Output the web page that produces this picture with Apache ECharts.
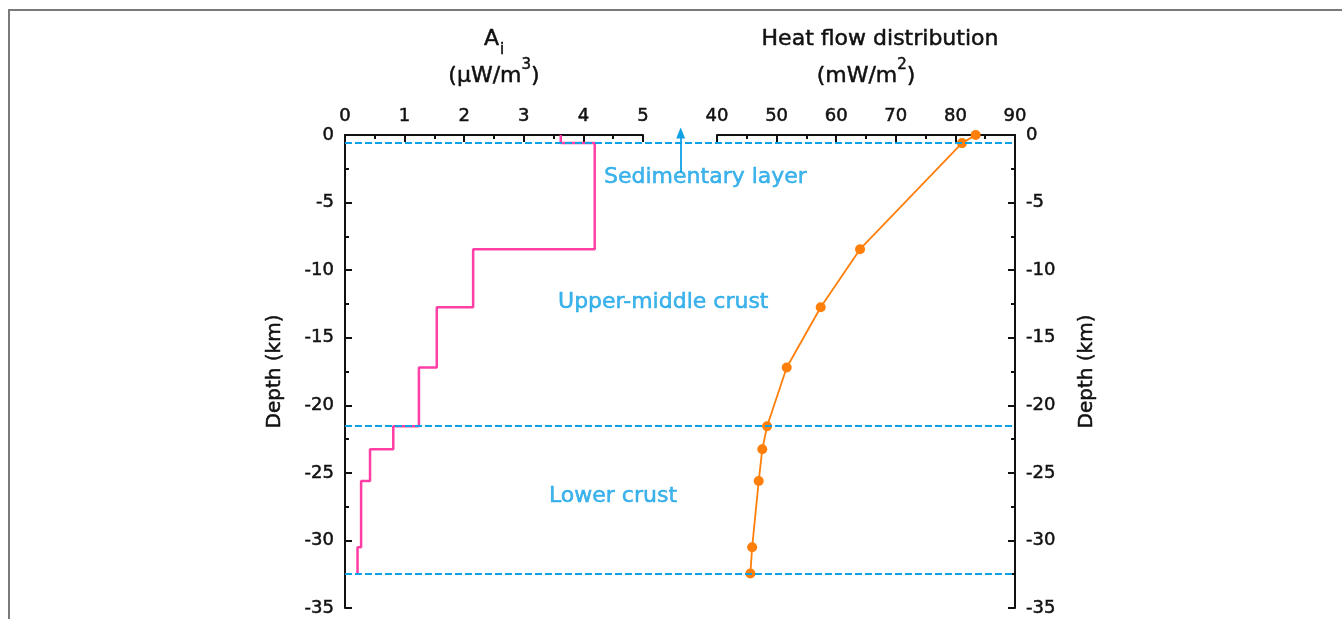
<!DOCTYPE html>
<html>
<head>
<meta charset="utf-8">
<script src="https://cdn.jsdelivr.net/npm/echarts@6/dist/echarts.min.js"></script>
<style>
  html, body { margin: 0; padding: 0; background: #fff; }
  #chart { width: 1342px; height: 619px; }
</style>
</head>
<body>
<div id="chart"></div>
<script>
// === Datos ===================================================================
// Producción de calor A_i por capa (µW/m3), límites de capa en km
const layerDepth = [0, -0.6, -8.45, -12.75, -17.2, -21.55, -23.25, -25.6, -30.5, -32.45];
const heatProd   = [3.62, 4.19, 2.15, 1.54, 1.24, 0.81, 0.42, 0.27, 0.21];

// Flujo de calor (mW/m2) por profundidad
const hfDepth  = [0, -0.6, -8.45, -12.75, -17.2, -21.55, -23.25, -25.6, -30.5, -32.45];
const heatFlow = [83.4, 81.1, 64.0, 57.4, 51.7, 48.4, 47.6, 47.0, 45.9, 45.6];

// Límites de capas (líneas discontinuas)
const boundaryDepth = [-0.6, -21.55, -32.45];

// Anotaciones (x en fracción del ancho total, y en km)
const annoText  = ['Sedimentary layer', 'Upper-middle crust', 'Lower crust'];
const annoX     = [0.538, 0.475, 0.40];
const annoDepth = [-3.1, -12.35, -26.7];
const arrowX = 0.501, arrowFrom = -2.8, arrowTo = 0.15;

const depthTicks = { min: -35, max: 0, interval: 5 };

// === Estilos ================================================================
const FONT = 'DejaVu Sans';
const black = '#111', pink = '#ff3fa6', orange = '#ff7f0a', blue = '#0fa0e6';
// trazo fino para engrosar un poco el texto (la figura original es más "gruesa")
const heavy = c => ({ textBorderColor: c, textBorderWidth: 0.5 });

const yAxisBase = (gridIndex, pos) => ({
  type: 'value', gridIndex, position: pos,
  min: depthTicks.min, max: depthTicks.max, interval: depthTicks.interval,
  axisLine: { show: true, lineStyle: { color: black, width: 2 } },
  axisTick: { show: true, inside: true, length: 7, lineStyle: { color: black, width: 2 } },
  minorTick: { show: true, splitNumber: 2, length: 4, lineStyle: { color: black, width: 2 } },
  axisLabel: { color: '#111', fontFamily: FONT, fontSize: 18, margin: 11, ...heavy('#111') },
  splitLine: { show: false },
  name: 'Depth (km)', nameLocation: 'middle', nameRotate: 90,
  nameTextStyle: { color: '#111', fontFamily: FONT, fontSize: 20, ...heavy('#111') }
});

const xAxisTop = (gridIndex, min, max, interval, name, rich) => ({
  type: 'value', gridIndex, position: 'top', min, max, interval,
  axisLine: { show: true, lineStyle: { color: black, width: 2 } },
  axisTick: { show: true, inside: true, length: 7, lineStyle: { color: black, width: 2 } },
  minorTick: { show: true, splitNumber: 2, length: 4, lineStyle: { color: black, width: 2 } },
  axisLabel: { color: '#111', fontFamily: FONT, fontSize: 18, margin: 10, ...heavy('#111') },
  splitLine: { show: false },
  name, nameLocation: 'middle', nameGap: 40,
  nameTextStyle: { color: '#111', fontFamily: FONT, fontSize: 22, lineHeight: 37, rich }
});

// === Construcción de series ==================================================
const stepData = [];
heatProd.forEach((a, i) => {
  stepData.push([a, layerDepth[i]]);
  stepData.push([a, layerDepth[i + 1]]);
});
const hfData = heatFlow.map((v, i) => [v, hfDepth[i]]);
const annoData = annoText.map((t, i) => ({ name: t, value: [annoX[i], annoDepth[i]] }));

const tk = { fontFamily: FONT, color: '#111', lineHeight: 37, ...heavy('#111') };
const richLeft = {
  t:   { ...tk, fontSize: 22 },
  sub: { ...tk, fontSize: 15, verticalAlign: 'bottom', padding: [0, 0, 0, 1] },
  sup: { ...tk, fontSize: 15, verticalAlign: 'top' }
};
const richRight = {
  t:   { ...tk, fontSize: 22 },
  t1:  { ...tk, fontSize: 22, padding: [0, 0, 0, 28] },
  sup: { ...tk, fontSize: 15, verticalAlign: 'top' }
};

const option = {
  animation: false,
  backgroundColor: '#fff',
  textStyle: { fontFamily: FONT },
  grid: [
    { left: 345, top: 135, width: 298, height: 473 },
    { left: 717, top: 135, width: 298, height: 473 },
    { left: 345, top: 121.5, width: 670, height: 486.5 }   // capa de anotaciones
  ],
  xAxis: [
    xAxisTop(0, 0, 5, 1, '{t|A}{sub|i}\n{t|(μW/m}{sup|3}{t|)}', richLeft),
    xAxisTop(1, 40, 90, 10, '{t1|Heat flow distribution}\n{t|(mW/m}{sup|2}{t|)}', richRight),
    { type: 'value', gridIndex: 2, min: 0, max: 1, show: false }
  ],
  yAxis: [
    { ...yAxisBase(0, 'left'), nameGap: 60 },
    { ...yAxisBase(1, 'right'), nameGap: 62 },
    { type: 'value', gridIndex: 2, min: -35, max: 1, show: false }
  ],
  graphic: [{
    type: 'rect', silent: true,
    shape: { x: 9, y: 10, width: 1400, height: 700 },
    style: { fill: 'none', stroke: '#7a7a7a', lineWidth: 2 }
  }],
  series: [
    {
      name: 'Ai', type: 'line', xAxisIndex: 0, yAxisIndex: 0,
      data: stepData, showSymbol: false, clip: false,
      lineStyle: { color: pink, width: 2.5 }, z: 3
    },
    {
      name: 'Heat flow', type: 'line', xAxisIndex: 1, yAxisIndex: 1,
      data: hfData, symbol: 'circle', symbolSize: 10, clip: false,
      itemStyle: { color: orange }, lineStyle: { color: orange, width: 1.8 }, z: 4
    },
    {
      name: 'overlay', type: 'scatter', xAxisIndex: 2, yAxisIndex: 2,
      data: annoData, symbolSize: 0, z: 2,
      label: {
        show: true, position: 'inside', formatter: p => p.name,
        color: blue, fontFamily: FONT, fontSize: 22, ...heavy(blue)
      },
      markLine: {
        silent: true, symbol: 'none', label: { show: false },
        lineStyle: { color: blue, width: 2, type: [7, 3] },
        data: [
          ...boundaryDepth.map(d => ({ yAxis: d })),
          [
            { coord: [arrowX, arrowFrom], symbol: 'none', lineStyle: { type: 'solid', width: 1.8 } },
            { coord: [arrowX, arrowTo], symbol: 'triangle', symbolSize: [9, 11] }
          ]
        ]
      }
    }
  ]
};

const chart = echarts.init(document.getElementById('chart'));
chart.setOption(option);
</script>
</body>
</html>
